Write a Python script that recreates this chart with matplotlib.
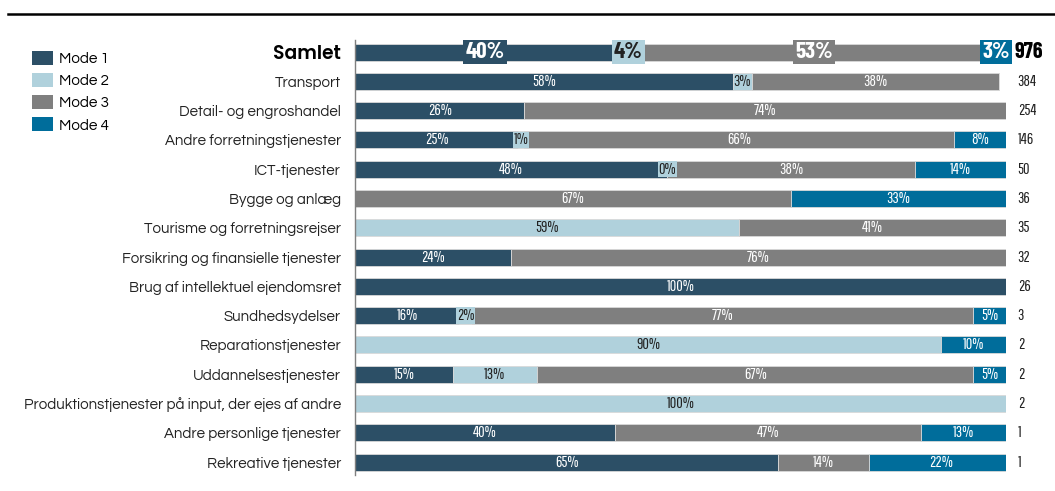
import matplotlib
matplotlib.use("Agg")
import matplotlib.pyplot as plt
from matplotlib.lines import Line2D
from matplotlib.patches import Patch
import numpy as np

categories = [
    "Samlet", "Transport", "Detail- og engroshandel", "Andre forretningstjenester",
    "ICT-tjenester", "Bygge og anlæg", "Tourisme og forretningsrejser",
    "Forsikring og finansielle tjenester", "Brug af intellektuel ejendomsret",
    "Sundhedsydelser", "Reparationstjenester", "Uddannelsestjenester",
    "Produktionstjenester på input, der ejes af andre",
    "Andre personlige tjenester", "Rekreative tjenester",
]
mode1 = [40, 58, 26, 25, 48, 0, 0, 24, 100, 16, 0, 15, 0, 40, 65]
mode2 = [4, 3, 0, 1, 0, 0, 59, 0, 0, 2, 90, 13, 100, 0, 0]
mode3 = [53, 38, 74, 66, 38, 67, 41, 76, 0, 77, 0, 67, 0, 47, 14]
mode4 = [3, 0, 0, 8, 14, 33, 0, 0, 0, 5, 10, 5, 0, 13, 22]
counts = [976, 384, 254, 146, 50, 36, 35, 32, 26, 3, 2, 2, 2, 1, 1]
# 0%-etiket vises alligevel for ICT, mode 2
show_zero = {(4, 1)}

modes = ["Mode 1", "Mode 2", "Mode 3", "Mode 4"]
colors = ["#2c4f66", "#b0d1dc", "#7f7f7f", "#006d9b"]
text_colors = ["white", "#222222", "white", "white"]
series = [mode1, mode2, mode3, mode4]

gothic = "Questrial"
narrow = "Pathway Gothic One"
narrow_bold = "Barlow Condensed"

fig = plt.figure(figsize=(10.55, 4.91), dpi=100)
ax = fig.add_axes([355 / 1055, 1 - 475 / 491, 651 / 1055, 435 / 491])

y = np.arange(len(categories))
left = np.zeros(len(categories))
for k, vals in enumerate(series):
    vals = np.array(vals, dtype=float)
    ax.barh(y, vals, left=left, height=0.58, color=colors[k],
            edgecolor="#d9d9d9", linewidth=0.6)
    for i, v in enumerate(vals):
        if v <= 0 and (i, k) not in show_zero:
            continue
        cx = left[i] + v / 2
        lab = f"{int(v)}%"
        if i == 0:
            ax.text(cx, i, lab, ha="center", va="center", fontsize=16.5,
                    fontweight="bold", color=text_colors[k], family=narrow_bold,
                    bbox=dict(boxstyle="square,pad=0.1", fc=colors[k], ec="none"))
        elif v <= 2:
            # smalle segmenter: etiket med egen baggrund
            ax.text(cx, i, lab, ha="center", va="center", fontsize=11.5,
                    color=text_colors[k], family=narrow,
                    bbox=dict(boxstyle="square,pad=0.05", fc=colors[k], ec="none"))
        else:
            ax.text(cx, i, lab, ha="center", va="center", fontsize=11.5,
                    color=text_colors[k], family=narrow)
    left += vals

for i, c in enumerate(counts):
    if i == 0:
        ax.text(101.3, i, str(c), ha="left", va="center", fontsize=16,
                fontweight="bold", family=narrow_bold, color="black")
    else:
        ax.text(101.8, i, str(c), ha="left", va="center", fontsize=11.5,
                family=narrow, color="#222222")

ax.set_xlim(0, 100)
ax.set_ylim(14.44, -0.41)
ax.set_yticks(y)
ax.set_yticklabels(categories, fontsize=10.8, color="#222222", family=gothic)
first = ax.get_yticklabels()[0]
first.set_fontsize(13.5)
first.set_family("Poppins")
first.set_fontweight("semibold")
first.set_color("black")
ax.tick_params(axis="y", length=0, pad=10)
ax.set_xticks([])
for s in ["top", "right", "bottom"]:
    ax.spines[s].set_visible(False)
ax.spines["left"].set_color("#7f7f7f")
ax.spines["left"].set_linewidth(1)

handles = [Patch(facecolor=c, edgecolor="none", label=m) for c, m in zip(colors, modes)]
fig.legend(handles=handles, loc="upper left", bbox_to_anchor=(18 / 1055, 1 - 37 / 491),
           frameon=False, prop={"family": gothic, "size": 11}, handlelength=1.4,
           handleheight=1.05, handletextpad=0.4, labelspacing=0.45)

fig.add_artist(Line2D([8 / 1055, 1], [1 - 14 / 491, 1 - 14 / 491],
                      color="black", linewidth=1.8))

fig.savefig("out.png", dpi=100)
